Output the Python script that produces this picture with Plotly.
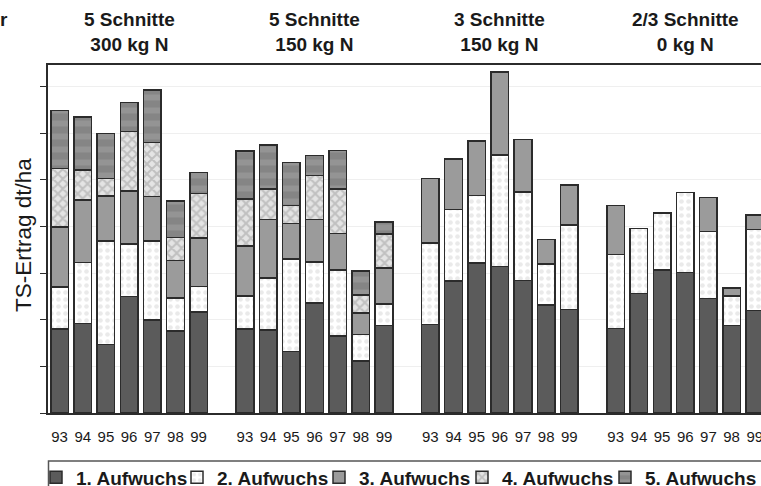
import plotly.graph_objects as go

# ---------------- data ----------------
years = ["93", "94", "95", "96", "97", "98", "99"]
groups = ["5 Schnitte<br>300 kg N", "5 Schnitte<br>150 kg N",
          "3 Schnitte<br>150 kg N", "2/3 Schnitte<br>0 kg N"]
series_names = ["1. Aufwuchs", "2. Aufwuchs", "3. Aufwuchs", "4. Aufwuchs", "5. Aufwuchs"]

# TS-Ertrag (dt/ha) per Aufwuchs; 4 groups x 7 years
a1 = [36.0, 38.4, 29.4, 49.9, 39.9, 35.1, 43.4,
      36.0, 35.6, 26.3, 47.1, 33.1, 22.4, 37.6,
      37.9, 56.7, 64.3, 62.9, 56.9, 46.3, 44.4,
      36.3, 51.3, 61.3, 60.3, 49.1, 37.6, 44.0]
a2 = [18.1, 26.2, 44.5, 22.7, 34.0, 14.2, 10.9,
      14.3, 22.4, 39.8, 17.6, 28.2, 11.2, 9.1,
      35.1, 30.6, 29.0, 47.7, 38.0, 17.7, 36.3,
      31.7, 27.8, 24.6, 34.3, 28.8, 12.5, 34.7]
a3 = [25.8, 26.8, 19.1, 22.7, 19.0, 16.1, 20.7,
      21.3, 25.1, 15.2, 18.4, 15.8, 9.3, 15.6,
      27.7, 21.6, 23.4, 35.8, 22.5, 10.4, 17.2,
      21.1, None, None, None, 14.5, 3.6, 6.3]
a4 = [25.0, 12.9, 7.6, 25.4, 23.2, 9.9, 19.1,
      20.3, 13.0, 7.7, 18.9, 18.9, 7.8, 14.4,
      None, None, None, None, None, None, None,
      None, None, None, None, None, None, None]
a5 = [24.8, 22.8, 19.4, 12.6, 22.5, 15.6, 9.0,
      20.4, 18.8, 18.4, 8.4, 16.7, 10.2, 5.3,
      None, None, None, None, None, None, None,
      None, None, None, None, None, None, None]
y_ticks = [0, 20, 40, 60, 80, 100, 120, 140]

# ---------------- layout helpers ----------------
W, H = 761, 486
L, R, T, B = 48, 0, 65, 73
PW, PH = W - L - R, H - T - B

def xp(px):
    return (px - L) / PW

def yp(py):
    return (H - B - py) / PH

FONT = "Liberation Sans, Arial, Helvetica, sans-serif"
EDGE = "#2b2b2b"
TXT = "#1a1a1a"

slot = 8
xpos = [g * slot + i for g in range(len(groups)) for i in range(len(years))]
ticktext = years * len(groups)

styles = [
    dict(color="#5b5b5b"),
    dict(color="#ffffff", pattern=dict(shape=".", bgcolor="#ffffff", fgcolor="#d6d6d6",
                                       size=7, solidity=0.35, fillmode="overlay")),
    dict(color="#9b9b9b"),
    dict(color="#e0e0e0", pattern=dict(shape="x", bgcolor="#e4e4e4", fgcolor="#9c9c9c",
                                       size=7, solidity=0.5, fillmode="overlay")),
    dict(color="#8e8e8e", pattern=dict(shape="-", bgcolor="#858585", fgcolor="#a4a4a4",
                                       size=13, solidity=0.45, fillmode="overlay")),
]

fig = go.Figure()
data = [a1, a2, a3, a4, a5]
legend_px = [36, 177, 319, 462, 605]
for k, (name, vals, st) in enumerate(zip(series_names, data, styles)):
    m = dict(st)
    m["line"] = dict(color=EDGE, width=1.5)
    lg = "legend" if k == 0 else f"legend{k+1}"
    fig.add_trace(go.Bar(x=xpos, y=vals, name=name, marker=m, width=0.76,
                         legend=lg, hoverinfo="skip"))

legend_common = dict(orientation="h", xanchor="left", yanchor="middle",
                     y=yp(477.5), bgcolor="rgba(0,0,0,0)", borderwidth=0,
                     font=dict(family=FONT, size=19, color=TXT, weight="bold"),
                     itemwidth=30)
legends = {}
for k in range(5):
    key = "legend" if k == 0 else f"legend{k+1}"
    legends[key] = dict(legend_common, x=xp(legend_px[k]))

fig.update_layout(
    width=W, height=H,
    margin=dict(l=L, r=R, t=T, b=B, pad=0, autoexpand=False),
    barmode="stack",
    paper_bgcolor="white", plot_bgcolor="white",
    showlegend=True,
    font=dict(family=FONT, color=TXT),
    **legends,
)

fig.update_xaxes(
    range=[-0.5, 30.27], tickmode="array", tickvals=xpos, ticktext=ticktext,
    tickfont=dict(family=FONT, size=15, color=TXT),
    ticks="", showgrid=False, zeroline=False,
    showline=True, linecolor=EDGE, linewidth=2, mirror=True,
    ticklabelstandoff=9, ticklabeloverflow="allow",
)
fig.update_yaxes(
    range=[0, 149.3], tickmode="array", tickvals=y_ticks, showticklabels=False,
    ticks="outside", ticklen=6, tickcolor=EDGE, tickwidth=1,
    showgrid=True, gridcolor="#efefef", gridwidth=1, zeroline=False,
    showline=True, linecolor=EDGE, linewidth=2,
)

# group titles, centred over each group of bars
for g, title in enumerate(groups):
    fig.add_annotation(x=g * slot + 3, xref="x", y=yp(32), yref="paper",
                       text=f"<b>{title}</b>", showarrow=False,
                       xanchor="center", yanchor="middle",
                       font=dict(family=FONT, size=19, color=TXT))

# cropped leftover text at top-left
fig.add_annotation(x=xp(10), xref="paper", y=yp(20), yref="paper", text="<b>r</b>",
                   showarrow=False, xanchor="right", yanchor="middle",
                   font=dict(family=FONT, size=19, color=TXT))

# y axis title
fig.add_annotation(x=xp(23), xref="paper", y=yp(235), yref="paper",
                   text="TS-Ertrag dt/ha", textangle=-90, showarrow=False,
                   xanchor="center", yanchor="middle",
                   font=dict(family=FONT, size=22.5, color=TXT))

# legend frame (extends past the cropped right/bottom edge)
fig.add_shape(type="rect", xref="paper", yref="paper",
              x0=xp(48.5), x1=xp(790), y0=yp(500), y1=yp(461),
              line=dict(color="#555555", width=1.5), fillcolor="rgba(0,0,0,0)",
              layer="below")

fig.write_html(
    "out.html",
    config={"displayModeBar": False},
    post_script="document.body.style.margin='0';document.body.style.overflow='hidden';",
)
